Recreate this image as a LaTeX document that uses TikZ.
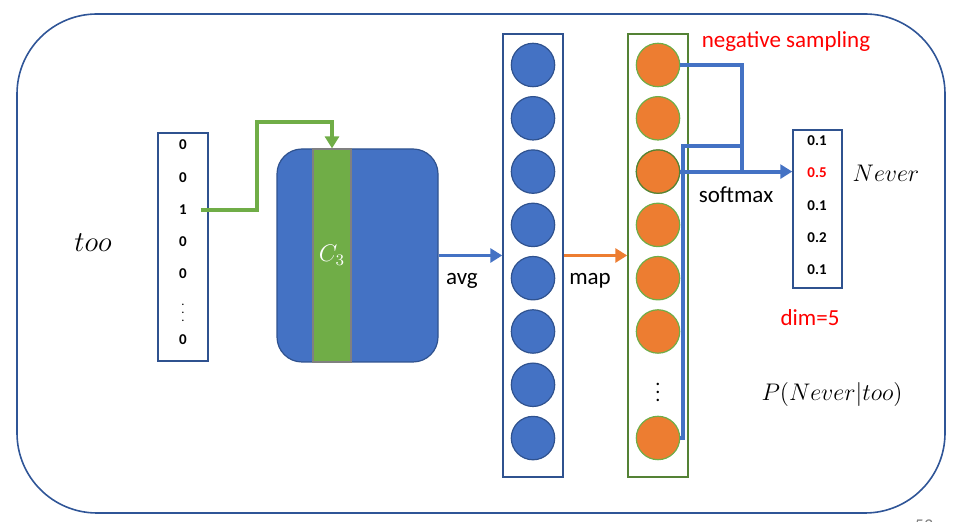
\documentclass[tikz,border=0pt]{standalone}
\usepackage{fontspec}
\setmainfont{Carlito}
\usetikzlibrary{arrows.meta}

\definecolor{pptblue}{HTML}{4472C4}
\definecolor{pptdark}{HTML}{2F528F}
\definecolor{pptorange}{HTML}{ED7D31}
\definecolor{pptgreen}{HTML}{70AD47}
\definecolor{pptgreendark}{HTML}{548235}
\definecolor{framecol}{HTML}{2F5597}

\tikzset{
	unit/.style={circle, minimum size=21.7pt, inner sep=0pt, line width=0.6pt},
	bluecell/.style={unit, fill=pptblue, draw=pptdark},
	orangecell/.style={unit, fill=pptorange, draw=pptgreen},
	column/.style={minimum width=30pt, minimum height=221.5pt, inner sep=0pt, line width=0.75pt},
	entry/.style={font=\fontsize{7.5}{8}\selectfont\bfseries},
	lbl/.style={font=\fontsize{11.5}{13}\selectfont},
	mathlbl/.style={font=\fontsize{12}{14}\selectfont},
	link/.style={pptblue, line width=2pt},
	tip/.style={-{Triangle[length=6pt,width=7pt]}}
}

\begin{document}
\begin{tikzpicture}[x=0.5pt,y=-0.5pt]
	\useasboundingbox (0,0) rectangle (964,522);
	\draw[framecol, line width=0.8pt, rounded corners=40pt] (17,14) rectangle (945,513);
	\node[gray, font=\fontsize{9}{10}\selectfont] (page) at (924,526) {53};

	% input word and one-hot vector
	\node[font=\fontsize{14.5}{16}\selectfont] (word) at (93,243) {$too$};
	\node[draw=pptdark, minimum width=25pt, minimum height=114pt, inner sep=0pt, line width=0.75pt] (onehot) at (183,247) {};
	\foreach \v/\y [count=\i] in {0/145,0/178,1/210,0/242,0/274,{\tiny$\vdots$}/307,0/340}
		\node[entry] (x\i) at (183,\y) {\v};

	% lookup matrix
	\node[draw=pptdark, fill=pptblue, rounded corners=12.5pt, minimum width=80.5pt, minimum height=106.5pt, line width=0.6pt] (emb) at (357.5,255.5) {};
	\node[fill=pptgreen, draw=gray, minimum width=19pt, minimum height=106.5pt, inner sep=0pt, line width=0.6pt,
		text=white, font=\fontsize{11.5}{13}\selectfont] (col) at (332,255.5) {$C_3$};
	\draw[pptgreen, line width=2pt, tip] ([xshift=3.5pt]x3.east) -| (257,122) -| (col.north);

	% hidden layer
	\node[column, draw=pptdark] (hid) at (533,255.5) {};
	\foreach \i in {1,...,8}
		\node[bluecell] (h\i) at (533,{65+(\i-1)*53.3}) {};
	\draw[pptblue, line width=1.5pt, tip] (emb.east) -- (hid.west);
	\node[lbl] (avg) at (462,281) {avg};

	% output layer
	\node[column, draw=pptgreendark] (out) at (658,255.5) {};
	\foreach \i in {1,...,6}
		\node[orangecell] (o\i) at (658,{65+(\i-1)*53.3}) {};
	\node[orangecell] (o7) at (658,438) {};
	\node[unit, draw=pptgreendark, fill=pptorange] at (o3) {};
	\node[font=\fontsize{10}{12}\selectfont] (odots) at (658,386) {$\vdots$};
	\draw[pptorange, line width=1.5pt, tip] (hid.east) -- (out.west);
	\node[lbl] (map) at (590,281) {map};
	\node[lbl, text=red] (neg) at (786,42) {negative sampling};

	% probabilities
	\node[draw=pptdark, minimum width=24.5pt, minimum height=79pt, inner sep=0pt, line width=0.75pt] (prob) at (817.5,209) {};
	\foreach \v/\y/\c [count=\i] in {0.1/141/black,0.5/173/red,0.1/206/black,0.2/238/black,0.1/270/black}
		\node[entry, text=\c] (p\i) at (817,\y) {\v};
	\node[lbl, text=red] (dim) at (810,318) {dim=5};
	\node[mathlbl] (never) at (886,173) {$Never$};
	\node[mathlbl] (cond) at (832,395) {$P(Never|too)$};

	% softmax links
	\coordinate (merge) at (742,172);
	\coordinate (joint) at (742,146);
	\draw[link] (o1.east) -| (merge);
	\draw[link] (o7.east) -- ++(1.5pt,0) |- (joint);
	\draw[link, tip] (o3.east) -- (o3.east -| prob.west);
	\node[lbl] (soft) at (736,195) {softmax};
\end{tikzpicture}
\end{document}
